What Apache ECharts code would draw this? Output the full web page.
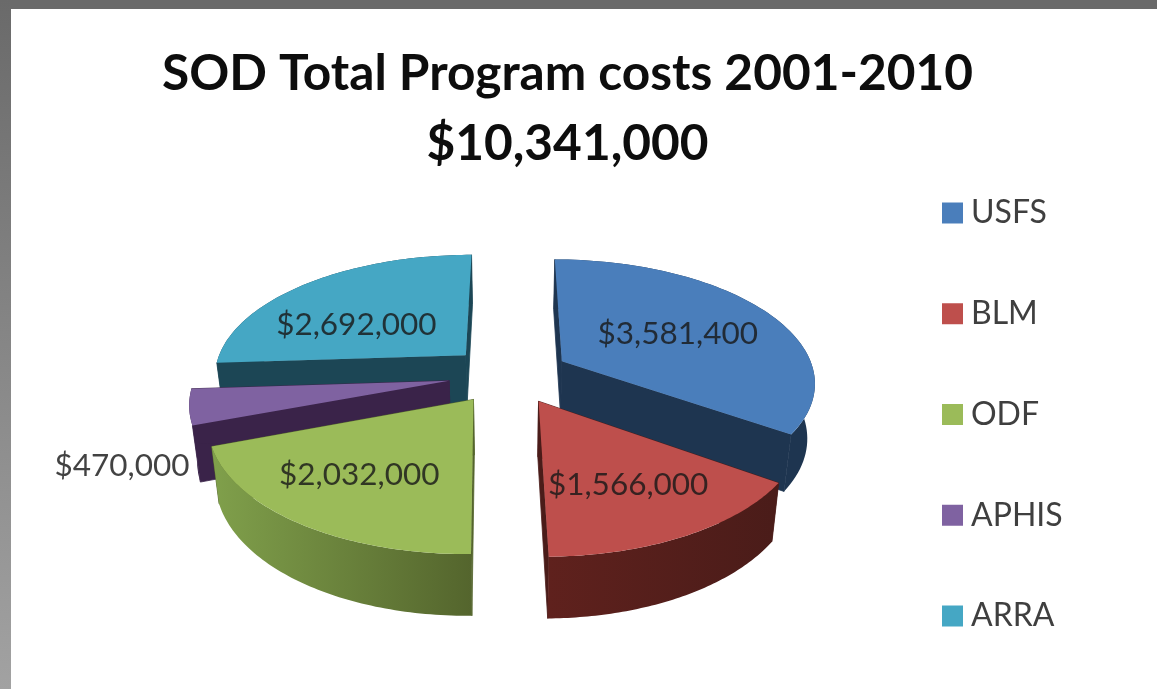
<!DOCTYPE html>
<html>
<head>
<meta charset="utf-8">
<style>html,body{margin:0;padding:0;background:#fff}#chart{width:1157px;height:689px}</style>
<script src="https://cdn.jsdelivr.net/npm/echarts@6/dist/echarts.min.js"></script>
</head>
<body>
<div id="chart"></div>
<script>
// Program cost by agency
const categories = ['USFS', 'BLM', 'ODF', 'APHIS', 'ARRA'];
const costs = [3581400, 1566000, 2032000, 470000, 2692000];
const titleLines = ['SOD Total Program costs 2001-2010', '$10,341,000'];

// Slice styling
const topColors = ['#4a7ebb', '#be4f4c', '#9bbb59', '#7f62a1', '#45a7c4'];
const wallColors = [
  ['#1e3550', '#1e3550'], ['#5f211d', '#4a1c19'], ['#80a04b', '#54652d'],
  ['#3a2349', '#3a2349'], ['#1c4655', '#1c4655']
];
// Label placement relative to each slice: fraction of radius, turn from the slice's mid-angle
const labelRadius = [0.552, 0.648, 0.651, 1.29, 0.547];
const labelTurn = [0.8, 0.5, 2.1, -16.4, -12.4];
// Back-to-front paint order for the exploded slices
const paintOrder = [4, 0, 3, 2, 1];

// Perspective pie geometry
const view = { cx: 509, cy: 374.6, rx: 253, ry: 121.7, k: 0.157, explode: 0.24,
               depth: 54.5, depthGrow: 0.04, baseShrink: 0.975 };
const FONT = 'Lato, Carlito, "Open Sans", sans-serif';

const total = costs.reduce((a, b) => a + b, 0);
const sweep = costs.map(v => v / total * 360);
const startAngle = sweep.map((_, i) => sweep.slice(0, i).reduce((a, b) => a + b, 0));
const rad = d => d * Math.PI / 180;

function project(u, v) {
  const w = 1 - view.k * v;
  return [view.cx + view.rx * u / w, view.cy + view.ry * v / w];
}
// The base of the pie sits lower and reads slightly narrower than its top
const drop = p => [
  view.cx + (p[0] - view.cx) * view.baseShrink,
  p[1] + view.depth + view.depthGrow * (p[1] - view.cy)
];

function sliceShapes(i) {
  const a0 = startAngle[i], a1 = a0 + sweep[i], mid = a0 + sweep[i] / 2;
  const u0 = view.explode * Math.sin(rad(mid));
  const v0 = -view.explode * Math.cos(rad(mid));
  const at = (r, a) => project(u0 + r * Math.sin(rad(a)), v0 - r * Math.cos(rad(a)));

  const apex = at(0, 0);
  const arc = [];
  const steps = 72;
  for (let s = 0; s <= steps; s++) arc.push(at(1, a0 + (a1 - a0) * s / steps));

  const poly = (points, fill, stroke) => ({
    type: 'polygon', shape: { points }, silent: true,
    style: { fill, stroke: stroke || null, lineWidth: stroke ? 0.8 : 0 }
  });
  const wall = new echarts.graphic.LinearGradient(0, 0, 1, 0, [
    { offset: 0, color: wallColors[i][0] }, { offset: 1, color: wallColors[i][1] }
  ]);
  const dark = wallColors[i][1];
  const labelAt = at(labelRadius[i], mid + labelTurn[i]);

  return [
    poly([apex, arc[0], drop(arc[0]), drop(apex)], dark, dark),
    poly([apex, arc[steps], drop(arc[steps]), drop(apex)], dark, dark),
    poly(arc.concat(arc.map(drop).reverse()), wall),
    poly([apex].concat(arc), topColors[i]),
    {
      type: 'text', silent: true,
      style: {
        x: labelAt[0], y: labelAt[1] + 1, text: '$' + costs[i].toLocaleString('en-US'),
        align: 'center', verticalAlign: 'middle',
        fill: 'rgba(25,25,25,0.82)', fontFamily: FONT, fontSize: 31.5
      }
    }
  ];
}

const chart = echarts.init(document.getElementById('chart'), null, { renderer: 'canvas' });
chart.setOption({
  animation: false,
  backgroundColor: '#fff',
  title: {
    text: titleLines.join('\n'), left: 562.5, top: 34, textAlign: 'center',
    textStyle: { fontFamily: FONT, fontWeight: 'bold', fontSize: 49.6, lineHeight: 70, color: '#0d0d0d' }
  },
  legend: {
    orient: 'vertical', left: 937, top: 192, itemWidth: 21, itemHeight: 21, itemGap: 68.75,
    icon: 'rect', data: categories, selectedMode: false, itemStyle: { borderWidth: 0 },
    textStyle: { fontFamily: FONT, fontSize: 32, color: '#3f3f3f', padding: [0, 0, 0, 3] }
  },
  graphic: [
    { type: 'rect', shape: { x: 0, y: 0, width: 1157, height: 9 }, style: { fill: '#6a6a6a' }, silent: true },
    {
      type: 'rect', shape: { x: 0, y: 0, width: 11, height: 689 }, silent: true,
      style: {
        fill: new echarts.graphic.LinearGradient(0, 0, 0, 1, [
          { offset: 0, color: '#6a6a6a' }, { offset: 1, color: '#a2a2a2' }
        ])
      }
    }
  ],
  series: paintOrder.map(i => ({
    type: 'custom',
    name: categories[i],
    coordinateSystem: 'none',
    itemStyle: { color: topColors[i] },
    data: [[costs[i]]],
    renderItem: () => ({ type: 'group', children: sliceShapes(i) })
  }))
});
</script>
</body>
</html>
